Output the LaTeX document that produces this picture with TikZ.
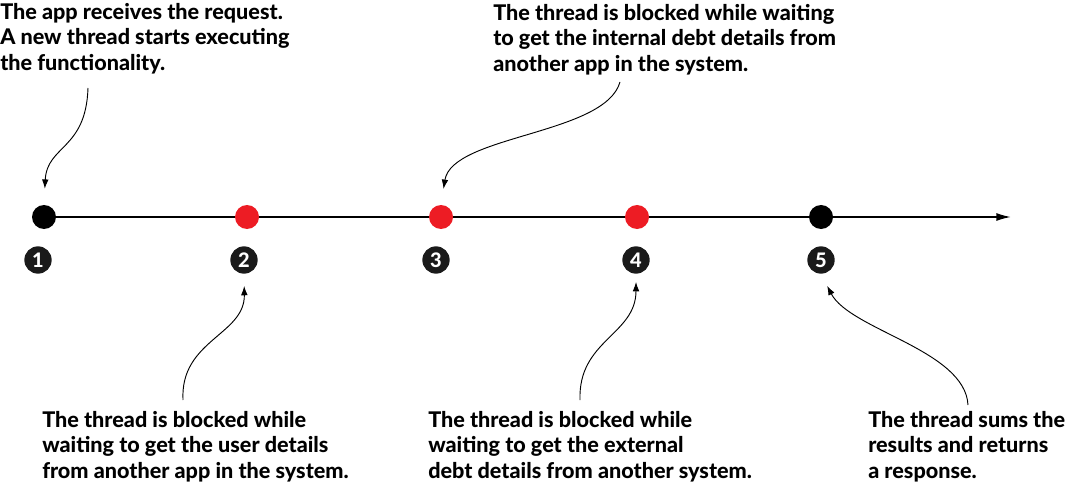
\documentclass[tikz,border=0pt]{standalone}
\usepackage{fontspec}
\setmainfont{Lato}[BoldFont={Lato Heavy}]
\usetikzlibrary{arrows.meta}
\definecolor{dotred}{HTML}{ED1C24}
\definecolor{tagblack}{HTML}{1A1A1A}

\tikzset{
  note/.style={anchor=north west, align=left, inner sep=0pt,
    font=\bfseries\fontsize{16.2}{19}\selectfont},
  event/.style={circle, minimum size=18pt, inner sep=0pt},
  numtag/.style={circle, fill=tagblack, text=white, minimum size=20.5pt, inner sep=0pt,
    font=\bfseries\fontsize{15}{15}\selectfont},
  callout/.style={->, line width=0.7pt, >={Latex[length=7pt,width=5pt]}},
}

\begin{document}
\begin{tikzpicture}[x=0.75pt, y=-0.75pt]
  \useasboundingbox (0,0) rectangle (1069,488);

  % time line
  \coordinate (start) at (44,217);
  \coordinate (end) at (1011,217);
  \draw [line width=1.2pt, -{Latex[length=11pt,width=6pt]}] (start) -- (end);

  \node [event, fill=black] (e1) at (44,217) {};
  \node [event, fill=dotred] (e2) at (247,217) {};
  \node [event, fill=dotred] (e3) at (441,217) {};
  \node [event, fill=dotred] (e4) at (637,217) {};
  \node [event, fill=black] (e5) at (821,217) {};

  \node [numtag] (n1) at (38,260) {1};
  \node [numtag] (n2) at (244,260) {2};
  \node [numtag] (n3) at (436,260) {3};
  \node [numtag] (n4) at (636,260) {4};
  \node [numtag] (n5) at (821,260) {5};

  % notes
  \node [note] (t1) at (0,3) {The app receives the request.\\A new thread starts executing\\the functionality.};
  \node [note] (t3) at (493,4) {The thread is blocked while waiting\\to get the internal debt details from\\another app in the system.};
  \node [note] (t2) at (42,411) {The thread is blocked while\\waiting to get the user details\\from another app in the system.};
  \node [note] (t4) at (428,411) {The thread is blocked while\\waiting to get the external\\debt details from another system.};
  \node [note] (t5) at (868,411) {The thread sums the\\results and returns\\a response.};

  % callouts
  \coordinate (s1) at (88,88);
  \coordinate (s3) at (620,82);
  \coordinate (s2) at (183,400);
  \coordinate (s4) at (580,400);
  \coordinate (s5) at (968,405);
  \draw [callout, shorten >=12pt] (s1) .. controls (86,150) and (47,145) .. (e1.north);
  \draw [callout, shorten >=12pt] (s3) .. controls (605,135) and (452,135) .. (e3.north);
  \draw [callout, shorten >=9pt] (s2) .. controls (180,340) and (245,335) .. (n2.south);
  \draw [callout, shorten >=6pt] (s4) .. controls (578,340) and (636,335) .. (n4.south);
  \draw [callout, shorten >=10pt] (s5) .. controls (965,350) and (850,330) .. (n5.south);
\end{tikzpicture}
\end{document}
